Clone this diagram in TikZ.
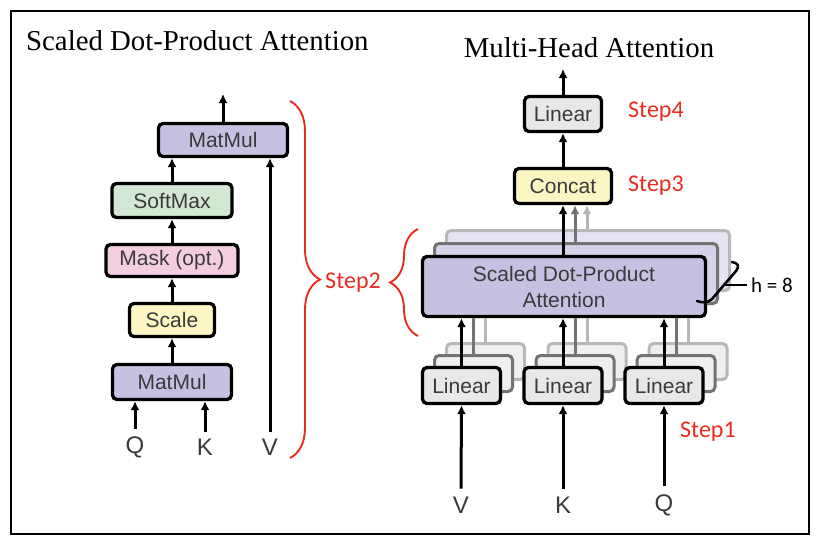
\documentclass[tikz,border=0pt]{standalone}
\usepackage{fontspec}
\setmainfont{Liberation Serif}
\newfontfamily\sansf{Liberation Sans}
\newfontfamily\stepf{Carlito}
\usetikzlibrary{arrows.meta,decorations.pathreplacing}
\definecolor{mmpurple}{RGB}{198,193,224}
\definecolor{mmpurpleB}{RGB}{214,210,234}
\definecolor{mmpurpleC}{RGB}{230,228,242}
\definecolor{smgreen}{RGB}{210,232,212}
\definecolor{mkpink}{RGB}{243,206,225}
\definecolor{scyellow}{RGB}{251,246,196}
\definecolor{lingray}{RGB}{230,233,230}
\definecolor{lingrayB}{RGB}{238,240,238}
\definecolor{txtgray}{RGB}{58,58,58}
\definecolor{stepred}{RGB}{232,44,32}
\tikzset{
  box/.style={draw=black, line width=3.3pt, rounded corners=4.5pt,
    font=\sansf\fontsize{21}{26}\selectfont, text=txtgray, inner sep=0pt, align=center},
  ghostA/.style={box, draw=black!55, line width=3pt},
  ghostB/.style={box, draw=black!28, line width=3pt},
  arr/.style={-{Latex[length=9pt,width=9pt]}, line width=3pt},
  gline/.style={line width=3pt},
  lbl/.style={font=\sansf\fontsize{24}{26}\selectfont, text=txtgray, inner sep=0pt},
  stepl/.style={font=\stepf\fontsize{24}{26}\selectfont, text=stepred, inner sep=0pt},
  redbrace/.style={draw=stepred, line width=1.9pt, decorate},
  ttl/.style={font=\fontsize{28.8}{30}\selectfont, inner sep=0pt}
}
\begin{document}
\begin{tikzpicture}[x=1pt,y=-1pt]
\useasboundingbox (0,0) rectangle (823,550);
\draw[line width=2.8pt] (11,11) rectangle (809,534);

% ---------- titles
\node[ttl, anchor=base west] (t1) at (26,50) {Scaled Dot-Product Attention};
\node[ttl, anchor=base] (t2) at (589,57) {Multi-Head Attention};

% ---------- left: scaled dot-product attention
\node[box, fill=mmpurple, minimum width=129pt, minimum height=33pt] (mmtop) at (223,140) {MatMul};
\node[box, fill=smgreen, minimum width=120pt, minimum height=34pt] (soft) at (172,200.5) {SoftMax};
\node[box, fill=mkpink, minimum width=132pt, minimum height=32pt] (mask) at (172,260.5) {Mask (opt.)};
\node[box, fill=scyellow, minimum width=85pt, minimum height=33pt] (scale) at (172,320) {Scale};
\node[box, fill=mmpurple, minimum width=119pt, minimum height=35pt] (mmbot) at (172,382) {MatMul};

\node[lbl] (q1) at (135,447) {Q};
\node[lbl] (k1) at (205,447) {K};
\node[lbl] (v1) at (270,447) {V};
\coordinate (outL) at (223,94);

\draw[arr] ([yshift=7pt]q1.north) -- (q1.north |- mmbot.south);
\draw[arr] ([yshift=7pt]k1.north) -- (k1.north |- mmbot.south);
\draw[arr] ([yshift=7pt]v1.north) -- (v1.north |- mmtop.south);
\draw[arr] (mmbot.north) -- (scale.south);
\draw[arr] (scale.north) -- (mask.south);
\draw[arr] (mask.north) -- (soft.south);
\draw[arr] (soft.north) -- (soft.north |- mmtop.south);
\draw[arr] (mmtop.north) -- (outL);

% ---------- braces and Step2
\draw[redbrace, decoration={brace, amplitude=30pt}] (290,101) -- (290,458);
\draw[redbrace, decoration={brace, amplitude=28pt}] (418,336) -- (418,229);
\node[stepl] (s2) at (353,283) {Step2};

% ---------- right: multi-head attention
\node[box, fill=lingray, minimum width=77pt, minimum height=35pt] (lin4) at (563,114) {Linear};
\node[box, fill=scyellow, minimum width=97pt, minimum height=35pt] (concat) at (563,186) {Concat};
\coordinate (outR) at (563,69);
\draw[arr] (lin4.north) -- (outR);
\draw[arr] (concat.north) -- (lin4.south);

% stacked attention heads
\node[ghostB, fill=mmpurpleC, minimum width=283pt, minimum height=60pt] (sdpa3) at (588,260.5) {};
\draw[arr, draw=black!30, color=black!30] (sdpa3.north -| 587,0) -- (587,0 |- concat.south);
\node[ghostA, fill=mmpurpleB, minimum width=283pt, minimum height=60pt] (sdpa2) at (576,273.5) {};
\draw[arr, draw=black!55, color=black!55] (sdpa2.north -| 575,0) -- (575,0 |- concat.south);

% stacked linears
\foreach \nm/\cx in {V/461.5, K/563, Q/664} {
  \node[ghostB, fill=lingrayB, minimum width=78pt, minimum height=36pt] (lin\nm3) at (\cx+24,361.5) {};
  \node[ghostA, fill=lingrayB, minimum width=78pt, minimum height=36pt] (lin\nm2) at (\cx+12,373.5) {};
}
\node[box, fill=mmpurple, minimum width=283pt, minimum height=60pt] (sdpa) at (564,286.5) {Scaled Dot-Product\\Attention};

\foreach \nm in {V,K,Q} {
  \draw[gline, draw=black!28] (lin\nm3.north) -- (lin\nm3.north |- sdpa.south);
  \draw[gline, draw=black!55] (lin\nm2.north) -- (lin\nm2.north |- sdpa.south);
}
\node[box, fill=lingray, minimum width=78pt, minimum height=36pt] (linV) at (461.5,385.5) {Linear};
\node[box, fill=lingray, minimum width=78pt, minimum height=36pt] (linK) at (563,385.5) {Linear};
\node[box, fill=lingray, minimum width=78pt, minimum height=36pt] (linQ) at (664,385.5) {Linear};

\draw[arr] (concat.south |- sdpa.north) -- (concat.south);
\draw[arr] (linV.north) -- (linV.north |- sdpa.south);
\draw[arr] (linK.north) -- (linK.north |- sdpa.south);
\draw[arr] (linQ.north) -- (linQ.north |- sdpa.south);

\node[lbl] (v2) at (461,505) {V};
\node[lbl] (k2) at (563,505) {K};
\node[lbl] (q2) at (664,505) {Q};
\draw[arr] ([yshift=8pt]v2.north) -- (linV.south);
\draw[arr] ([yshift=8pt]k2.north) -- (linK.south);
\draw[arr] ([yshift=8pt]q2.north) -- (linQ.south);

% h = 8 marker
\node[font=\stepf\fontsize{21}{23}\selectfont, anchor=west, inner sep=0pt] (hlab) at (751,285) {h = 8};
\draw[line width=1.8pt] (723,285) -- ([xshift=-4pt]hlab.west);
\draw[line width=2.6pt, line cap=round] (732,262) .. controls (738,263) and (740,266) .. (736,271) -- (712,299) .. controls (708,303) and (702,303) .. (697,301);

% steps
\node[stepl, anchor=west] (s4) at (628,112) {Step4};
\node[stepl, anchor=west] (s3) at (628,186) {Step3};
\node[stepl, anchor=west] (s1) at (680,432) {Step1};
\end{tikzpicture}
\end{document}
